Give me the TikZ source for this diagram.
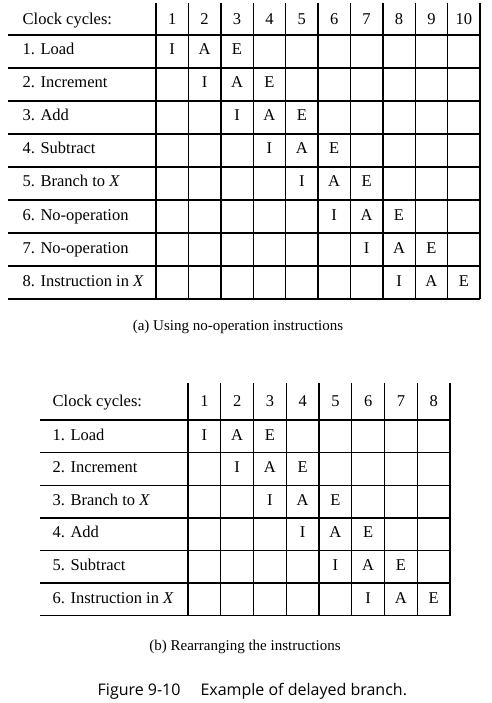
\documentclass[tikz,border=0pt]{standalone}
\usepackage{fontspec}
\setmainfont{Liberation Serif}
\newfontfamily\capfont{Open Sans}
\begin{document}
\begin{tikzpicture}[x=1pt, y=-1pt, line width=1.4pt]
\tikzset{
  rowtext/.style={anchor=base west, inner sep=0pt, font=\fontsize{16.5}{18}\selectfont},
  celltext/.style={anchor=base, inner sep=0pt, font=\fontsize{16.5}{18}\selectfont},
  captext/.style={anchor=base, inner sep=0pt, font=\fontsize{15}{17}\selectfont}
}
\useasboundingbox (0,0) rectangle (491,703);

% (a) using no-operation instructions
\foreach \r in {0,...,8}
  \draw (8, 35+33*\r) -- (480, 35+33*\r);
\foreach \c in {0,...,10}
  \draw (156+32.4*\c, 3) -- (156+32.4*\c, 299);

\node[rowtext] (a-head) at (22, 25) {Clock cycles:};
\foreach \c in {1,...,10}
  \node[celltext] (a-num\c) at (156+32.4*\c-16.2, 25) {\c};

\foreach \r/\txt in {1/1. Load, 2/2. Increment, 3/3. Add, 4/4. Subtract,
    5/5. Branch to \textit{X}, 6/6. No-operation, 7/7. No-operation, 8/8. Instruction in \textit{X}}
  \node[rowtext] (a-row\r) at (22, 35+33*\r-13) {\txt};

\foreach \r in {1,...,8} {
  \node[celltext] (a-i\r) at (156+32.4*\r-16.2, 35+33*\r-13) {I};
  \node[celltext] (a-a\r) at (156+32.4*\r+16.2, 35+33*\r-13) {A};
  \node[celltext] (a-e\r) at (156+32.4*\r+48.6, 35+33*\r-13) {E};
}

\node[captext] (a-cap) at (238, 330) {(a) Using no-operation instructions};

% (b) rearranging the instructions
\foreach \r in {0,...,6}
  \draw (40, 420+32.6*\r) -- (450, 420+32.6*\r);
\foreach \c in {0,...,8}
  \draw (188+32.75*\c, 383) -- (188+32.75*\c, 616);

\node[rowtext] (b-head) at (52, 406) {Clock cycles:};
\foreach \c in {1,...,8}
  \node[celltext] (b-num\c) at (188+32.75*\c-16.375, 406) {\c};

\foreach \r/\txt in {1/1. Load, 2/2. Increment, 3/3. Branch to \textit{X}, 4/4. Add,
    5/5. Subtract, 6/6. Instruction in \textit{X}}
  \node[rowtext] (b-row\r) at (52, 420+32.6*\r-12.6) {\txt};

\foreach \r in {1,...,6} {
  \node[celltext] (b-i\r) at (188+32.75*\r-16.375, 420+32.6*\r-12.6) {I};
  \node[celltext] (b-a\r) at (188+32.75*\r+16.375, 420+32.6*\r-12.6) {A};
  \node[celltext] (b-e\r) at (188+32.75*\r+49.125, 420+32.6*\r-12.6) {E};
}

\node[captext] (b-cap) at (245, 650) {(b) Rearranging the instructions};

\node[anchor=base west, inner sep=0pt, font=\capfont\fontsize{16}{18}\selectfont]
  (fig-cap) at (97, 695) {Figure 9-10\hspace{20pt}Example of delayed branch.};

\end{tikzpicture}
\end{document}
